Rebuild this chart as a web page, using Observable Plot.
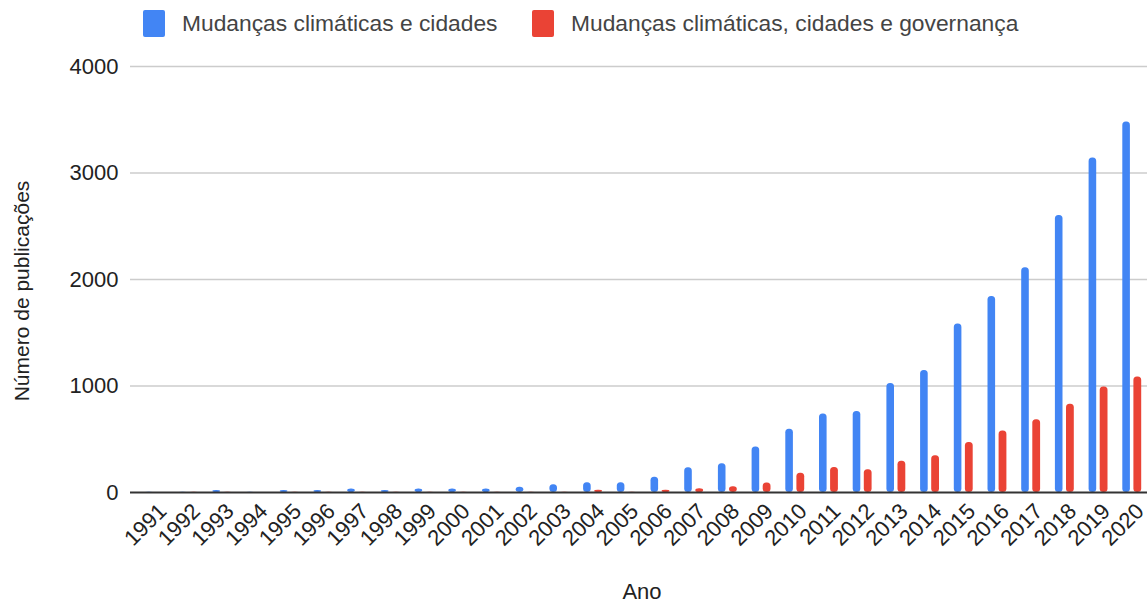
<!DOCTYPE html>
<html>
<head>
<meta charset="utf-8">
<script src="https://cdn.jsdelivr.net/npm/d3@7"></script>
<script src="https://cdn.jsdelivr.net/npm/@observablehq/plot@0.6"></script>
<style>
  body { margin: 0; background: #fff; font-family: Arial, "Liberation Sans", sans-serif; }
  #legend { position: relative; height: 40px; width: 1147px; }
  .item { position: absolute; top: 10px; height: 27px; display: flex; align-items: center; font-size: 22.8px; color: #444; white-space: nowrap; }
  .sw { width: 22px; height: 27px; border-radius: 2px; margin-right: 17px; }
  #chart svg text { font-size: 22px; }
</style>
</head>
<body>
<div id="legend"></div>
<div id="chart"></div>
<script>
const years = ["1991","1992","1993","1994","1995","1996","1997","1998","1999","2000",
  "2001","2002","2003","2004","2005","2006","2007","2008","2009","2010",
  "2011","2012","2013","2014","2015","2016","2017","2018","2019","2020"];
const seriesNames = ["Mudanças climáticas e cidades", "Mudanças climáticas, cidades e governança"];
const colors = ["#4285F4", "#EA4335"];
const cidades = [2, 3, 18, 3, 18, 18, 33, 18, 33, 33,
  33, 50, 72, 91, 91, 144, 232, 270, 428, 594,
  738, 760, 1023, 1146, 1582, 1840, 2110, 2600, 3140, 3480];
const governanca = [0, 2, 2, 0, 2, 2, 2, 2, 2, 2,
  2, 2, 2, 20, 3, 20, 35, 54, 89, 180,
  235, 213, 294, 344, 469, 577, 683, 828, 990, 1084];
const yTicks = [0, 1000, 2000, 3000, 4000];

const legend = document.getElementById("legend");
const lx = [143, 532];
seriesNames.forEach((n, i) => {
  const d = document.createElement("div");
  d.className = "item";
  d.style.left = lx[i] + "px";
  d.innerHTML = `<div class="sw" style="background:${colors[i]}"></div><span>${n}</span>`;
  legend.appendChild(d);
});

const dataA = years.map((y, i) => ({year: y, value: cidades[i]}));
const dataB = years.map((y, i) => ({year: y, value: governanca[i]}));

const chart = Plot.plot({
  width: 1147,
  height: 564,
  marginTop: 26,
  marginBottom: 112,
  marginLeft: 130,
  marginRight: 0,
  style: {fontFamily: "Arial, 'Liberation Sans', sans-serif", fontSize: "22px", color: "#222", background: "#fff", overflow: "visible"},
  x: {type: "band", domain: years, range: [137.5, 1148.5], padding: 0, round: false, label: null},
  y: {domain: [0, 4000], label: null},
  marks: [
    Plot.ruleY(yTicks.filter(d => d > 0), {stroke: "#cccccc", strokeWidth: 1.3, strokeOpacity: 1}),
    Plot.barY(dataA, {x: "year", y: "value", fill: colors[0], insetLeft: 7.5, insetRight: 18.6, rx: 3.5}),
    Plot.barY(dataB, {x: "year", y: "value", fill: colors[1], insetLeft: 18.6, insetRight: 7.3, rx: 3.5}),
    Plot.ruleY([0], {stroke: "#333", strokeWidth: 2}),
    Plot.axisY({ticks: yTicks, tickSize: 0, tickPadding: 12, tickFormat: d => String(d), fill: "#222", label: null}),
    Plot.axisX({tickSize: 0, tickRotate: -45, tickPadding: 15, dx: 8, fill: "#222", label: null})
  ]
});
document.getElementById("chart").appendChild(chart);

const svg = d3.select(chart);
svg.append("text").attr("x", 642).attr("y", 559).attr("text-anchor", "middle")
  .attr("fill", "#222").text("Ano");
svg.append("text").attr("transform", "translate(29,251) rotate(-90)").attr("text-anchor", "middle")
  .attr("fill", "#222").style("font-size", "21px").text("Número de publicações");
</script>
</body>
</html>
